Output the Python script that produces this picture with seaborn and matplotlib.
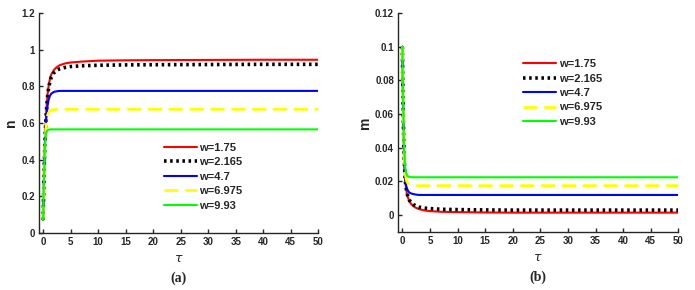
import numpy as np
import pandas as pd
import matplotlib
matplotlib.use('Agg')
import matplotlib.pyplot as plt
import seaborn as sns

sns.set_style('ticks')
plt.rcParams['font.family'] = ['Liberation Sans', 'DejaVu Sans']

tau = [0, 0.1, 0.2, 0.3, 0.4, 0.5, 0.6, 0.8, 1.0, 1.25, 1.5, 2, 2.5, 3, 4, 5,
       7, 10, 15, 20, 30, 40, 50]

labels = ['w=1.75', 'w=2.165', 'w=4.7', 'w=6.975', 'w=9.93']
colors = ['#ff0000', '#000000', '#0000ff', '#ffff00', '#00ff00']

# panel (a): n
n_175 = [0.07, 0.2, 0.34, 0.45, 0.54, 0.61, 0.67, 0.75, 0.8, 0.84, 0.865, 0.89, 0.905,
         0.915, 0.925, 0.93, 0.935, 0.94, 0.942, 0.943, 0.944, 0.945, 0.945]
n_2165 = [0.07, 0.2, 0.34, 0.45, 0.54, 0.61, 0.66, 0.74, 0.79, 0.825, 0.85, 0.875, 0.888,
          0.895, 0.903, 0.908, 0.912, 0.915, 0.917, 0.918, 0.919, 0.92, 0.92]
n_47 = [0.07, 0.2, 0.33, 0.44, 0.52, 0.58, 0.63, 0.69, 0.725, 0.748, 0.76, 0.77, 0.773,
        0.775, 0.775, 0.775, 0.775, 0.775, 0.775, 0.775, 0.775, 0.775, 0.775]
n_6975 = [0.07, 0.2, 0.33, 0.43, 0.51, 0.56, 0.6, 0.64, 0.655, 0.665, 0.67, 0.673, 0.675,
          0.675, 0.675, 0.675, 0.675, 0.675, 0.675, 0.675, 0.675, 0.675, 0.675]
n_993 = [0.07, 0.2, 0.33, 0.43, 0.5, 0.535, 0.55, 0.56, 0.563, 0.565, 0.565, 0.565, 0.565,
         0.565, 0.565, 0.565, 0.565, 0.565, 0.565, 0.565, 0.565, 0.565, 0.565]

# panel (b): m
m_175 = [0.1, 0.072, 0.052, 0.037, 0.028, 0.022, 0.018, 0.013, 0.0105, 0.0085, 0.007, 0.0053,
         0.0043, 0.0036, 0.0028, 0.0024, 0.002, 0.0018, 0.0016, 0.0015, 0.0015, 0.0015, 0.0015]
m_2165 = [0.1, 0.072, 0.052, 0.037, 0.028, 0.022, 0.018, 0.0135, 0.011, 0.009, 0.0078, 0.0063,
          0.0054, 0.0048, 0.0042, 0.0039, 0.0035, 0.0033, 0.0031, 0.003, 0.003, 0.003, 0.003]
m_47 = [0.1, 0.073, 0.053, 0.038, 0.029, 0.023, 0.019, 0.016, 0.0145, 0.0135, 0.013, 0.0125,
        0.0122, 0.012, 0.012, 0.012, 0.012, 0.012, 0.012, 0.012, 0.012, 0.012, 0.012]
m_6975 = [0.1, 0.074, 0.054, 0.04, 0.031, 0.026, 0.023, 0.02, 0.019, 0.0183, 0.018, 0.0177,
          0.0176, 0.0175, 0.0175, 0.0175, 0.0175, 0.0175, 0.0175, 0.0175, 0.0175, 0.0175, 0.0175]
m_993 = [0.1, 0.075, 0.055, 0.042, 0.034, 0.029, 0.026, 0.024, 0.023, 0.0228, 0.0226, 0.0225,
         0.0225, 0.0225, 0.0225, 0.0225, 0.0225, 0.0225, 0.0225, 0.0225, 0.0225, 0.0225, 0.0225]

n_series = [n_175, n_2165, n_47, n_6975, n_993]
m_series = [m_175, m_2165, m_47, m_6975, m_993]

styles = [dict(lw=1.5, ls='-'),
          dict(lw=2.6, ls=(0, (0.7, 1.0))),
          dict(lw=1.5, ls='-'),
          dict(lw=2.0, ls=(0, (5, 2.5))),
          dict(lw=1.5, ls='-')]

fig = plt.figure(figsize=(6.95, 2.9), dpi=100)
ax1 = fig.add_axes([0.056, 0.197, 0.402, 0.758])
ax2 = fig.add_axes([0.573, 0.2, 0.403, 0.755])


def draw(ax, series, ylim, yticks, yfmt, ylabel, panel, legend_xy):
    for vals, lab, col, st in zip(series, labels, colors, styles):
        sns.lineplot(x=tau, y=vals, ax=ax, color=col, label=lab,
                     linewidth=st['lw'], linestyle=st['ls'], sort=False)
    ax.set_xlim(-0.75, 50)
    ax.set_ylim(*ylim)
    ax.set_xticks(range(0, 51, 5))
    ax.set_yticks(yticks)
    ax.set_yticklabels([yfmt(v) for v in yticks])
    ax.tick_params(direction='in', length=3, width=1, labelsize=7, pad=3)
    for lbl in ax.get_xticklabels() + ax.get_yticklabels():
        lbl.set_fontweight('bold')
        lbl.set_color('#262626')
    sns.despine(ax=ax)
    for sp in ['left', 'bottom']:
        ax.spines[sp].set_linewidth(1.0)
        ax.spines[sp].set_color('#262626')
    ax.set_ylabel(ylabel, fontsize=10, fontweight='bold', labelpad=2)
    ax.set_xlabel(r'$\tau$', fontsize=9, labelpad=4)
    ax.text(0.5, -0.175, panel, transform=ax.transAxes, ha='center', va='top',
            fontsize=10, fontweight='bold', family='Liberation Serif')
    leg = ax.legend(loc='upper left', bbox_to_anchor=legend_xy, frameon=False,
                    fontsize=8, handlelength=3.0, handletextpad=0.2,
                    labelspacing=0.4, borderaxespad=0)
    for t in leg.get_texts():
        t.set_fontweight('bold')


def fmt_n(v):
    return '0' if v == 0 else ('1' if v == 1 else '{:g}'.format(v))


def fmt_m(v):
    return '0' if abs(v) < 1e-12 else '{:g}'.format(round(v, 2))


draw(ax1, n_series, (0, 1.2), [0, 0.2, 0.4, 0.6, 0.8, 1.0, 1.2], fmt_n, 'n', '(a)',
     (0.43, 0.43))
draw(ax2, m_series, (-0.01, 0.12), [0, 0.02, 0.04, 0.06, 0.08, 0.1, 0.12], fmt_m, 'm',
     '(b)', (0.43, 0.81))

fig.savefig('out.png', dpi=100)
